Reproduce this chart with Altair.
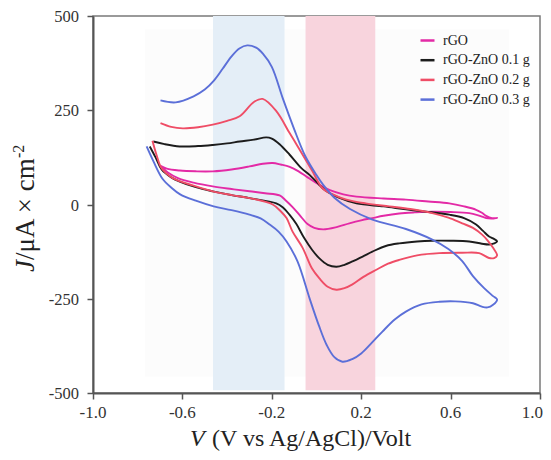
import altair as alt
import pandas as pd

# ---------------- data ----------------
x_ticks = [-1.0, -0.6, -0.2, 0.2, 0.6, 1.0]
x_tick_labels = ["-1.0", "-0.6", "-0.2", "0.2", "0.6", "1.0"]
y_ticks = [-500, -250, 0, 250, 500]
y_tick_labels = ["-500", "-250", "0", "250", "500"]
series_names = ["rGO", "rGO-ZnO 0.1 g", "rGO-ZnO 0.2 g", "rGO-ZnO 0.3 g"]
series_colors = ["#e32aa6", "#1c1c1c", "#ef4d66", "#5b6fd8"]

rgo_v = [-0.70, -0.67, -0.612, -0.54, -0.464, -0.38, -0.30, -0.24, -0.196, -0.16, -0.12, -0.08, -0.04, 0.013, 0.06,
         0.12, 0.179, 0.30, 0.40, 0.50, 0.594, 0.66, 0.714, 0.74, 0.759, 0.785, 0.808, 0.785, 0.759, 0.72, 0.683,
         0.60, 0.518, 0.44, 0.37, 0.30, 0.25, 0.20, 0.147, 0.09, 0.03, -0.01, -0.04, -0.07, -0.107, -0.14, -0.165,
         -0.23, -0.30, -0.38, -0.464, -0.55, -0.62, -0.665, -0.70]
rgo_j = [103, 95, 90, 88, 88, 93, 101, 108, 110, 106, 100, 88, 72, 52, 38,
         27, 21, 16, 13, 8, 3, -5, -14, -22, -30, -36, -36, -37, -36, -28, -23,
         -20, -19, -21, -24, -30, -36, -42, -50, -60, -66, -62, -52, -32, -7, 12, 24,
         30, 35, 41, 48, 58, 70, 85, 103]

zno1_v = [-0.746, -0.72, -0.693, -0.65, -0.612, -0.54, -0.464, -0.38, -0.30, -0.18, -0.15, -0.121, -0.09, -0.055,
          -0.02, 0.013, 0.05, 0.089, 0.125, 0.161, 0.21, 0.25, 0.31, 0.37, 0.45, 0.518, 0.60, 0.683, 0.74, 0.772,
          0.795, 0.808, 0.79, 0.772, 0.745, 0.714, 0.66, 0.594, 0.50, 0.40, 0.30, 0.179, 0.10, 0.04, 0.0, -0.03,
          -0.07, -0.12, -0.165, -0.2, -0.225, -0.28, -0.344, -0.40, -0.464, -0.53, -0.612, -0.68, -0.73]
zno1_j = [154, 125, 93, 72, 61, 46, 35, 25, 17, 3, -8, -27, -52, -89,
          -120, -143, -160, -165, -160, -151, -137, -125, -110, -103, -98, -96, -96, -98, -104, -106,
          -103, -98, -90, -85, -70, -53, -36, -27, -20, -13, -5, 3, 18, 37, 60, 78,
          98, 132, 160, 175, 178, 172, 167, 162, 158, 155, 154, 160, 167]

zno2_v = [-0.734, -0.715, -0.693, -0.643, -0.55, -0.464, -0.38, -0.30, -0.196, -0.16, -0.134, -0.107, -0.062,
          -0.02, 0.013, 0.05, 0.089, 0.125, 0.161, 0.21, 0.268, 0.32, 0.37, 0.45, 0.549, 0.65, 0.728, 0.772,
          0.795, 0.808, 0.79, 0.765, 0.741, 0.70, 0.652, 0.59, 0.518, 0.42, 0.326, 0.22, 0.134, 0.08, 0.027,
          -0.018, -0.06, -0.09, -0.121, -0.179, -0.241, -0.28, -0.344, -0.40, -0.464, -0.53, -0.598, -0.65, -0.698]
zno2_j = [169, 130, 96, 70, 50, 35, 25, 17, 0, -18, -36, -72, -115,
          -170, -196, -218, -226, -222, -212, -192, -173, -157, -147, -135, -129, -128, -129, -142,
          -142, -135, -115, -95, -80, -62, -50, -35, -23, -12, -5, 3, 13, 25, 43,
          88, 130, 160, 190, 247, 280, 272, 234, 222, 212, 205, 202, 206, 216]

zno3_v = [-0.76, -0.73, -0.69, -0.65, -0.61, -0.54, -0.46, -0.38, -0.30, -0.25, -0.21, -0.17, -0.134, -0.085,
          -0.031, 0.01, 0.045, 0.08, 0.116, 0.16, 0.20, 0.25, 0.295, 0.35, 0.40, 0.47, 0.55, 0.62, 0.70, 0.74,
          0.765, 0.79, 0.808, 0.79, 0.75, 0.70, 0.652, 0.59, 0.518, 0.40, 0.25, 0.15, 0.08, 0.03, 0.0, -0.05,
          -0.10, -0.15, -0.20, -0.24, -0.27, -0.31, -0.345, -0.38, -0.42, -0.46, -0.50, -0.55, -0.63, -0.698]
zno3_j = [154, 115, 69, 45, 27, 10, -5, -15, -27, -37, -53, -72, -98, -151,
          -249, -320, -372, -405, -417, -410, -395, -365, -337, -305, -284, -265, -258, -257, -262, -271,
          -273, -266, -252, -243, -222, -190, -150, -118, -93, -65, -40, -12, 18, 52, 78, 128,
          200, 280, 365, 400, 416, 422, 414, 393, 360, 328, 305, 287, 271, 276]

band_v1 = [-0.463, -0.049]
band_v2 = [-0.143, 0.263]
band_top = [500, 500]
band_bottom = [-493, -493]
band_colors = ["#e4eef7", "#f8d4dd"]

inner_v = [-0.768, 0.862]
inner_j = [-457, 465]

x_title_italic = "V"
x_title_rest = "(V vs Ag/AgCl)/Volt"
y_title_italic = "J"
y_title_rest = "/μA × cm"
y_title_sup = "-2"

# ---------------- build tables ----------------
rows = []
for name, vs, js in zip(series_names,
                        [rgo_v, zno1_v, zno2_v, zno3_v],
                        [rgo_j, zno1_j, zno2_j, zno3_j]):
    for i, (v, j) in enumerate(zip(vs, js)):
        rows.append({"series": name, "v": v, "j": j, "idx": i})
curves = pd.DataFrame(rows)

SERIF = "Liberation Serif"
xscale = alt.Scale(domain=[-1, 1], nice=False, zero=False)
yscale = alt.Scale(domain=[-500, 500], nice=False, zero=False)

axis_common = dict(title=None, grid=False, domainColor="#555555", domainWidth=2,
                   tickColor="#555555", tickWidth=1.5, tickSize=6, labels=False)
xaxis = alt.Axis(values=x_ticks, **axis_common)
yaxis = alt.Axis(values=y_ticks, **axis_common)

inner_df = pd.DataFrame({"v1": [inner_v[0]], "v2": [inner_v[1]], "j1": [inner_j[0]], "j2": [inner_j[1]]})
inner = alt.Chart(inner_df).mark_rect(color="#fcfcfc").encode(
    x=alt.X("v1:Q", scale=xscale, axis=xaxis), x2="v2:Q",
    y=alt.Y("j1:Q", scale=yscale, axis=yaxis), y2="j2:Q")

band_layers = []
for a, b, t, bt, c in zip(band_v1, band_v2, band_top, band_bottom, band_colors):
    bdf = pd.DataFrame({"v1": [a], "v2": [b], "j1": [bt], "j2": [t]})
    band_layers.append(
        alt.Chart(bdf).mark_rect(color=c).encode(
            x=alt.X("v1:Q", scale=xscale, axis=xaxis), x2="v2:Q",
            y=alt.Y("j1:Q", scale=yscale, axis=yaxis), y2="j2:Q"))

lines = alt.Chart(curves).mark_line(interpolate="catmull-rom", strokeWidth=1.9).encode(
    x=alt.X("v:Q", scale=xscale, axis=xaxis),
    y=alt.Y("j:Q", scale=yscale, axis=yaxis),
    color=alt.Color("series:N",
                    scale=alt.Scale(domain=series_names, range=series_colors),
                    sort=series_names,
                    legend=alt.Legend(title=None, orient="none", legendX=326, legendY=16,
                                      symbolType="stroke", symbolStrokeWidth=2.5, symbolSize=196,
                                      labelFont=SERIF, labelFontSize=14, labelColor="#222222",
                                      rowPadding=3.7, labelOffset=7, padding=0, labelLimit=300)),
    order="idx:Q")

# tick labels as serif text placed through the same scales
xlab_df = pd.DataFrame({"v": x_ticks[:-1], "t": x_tick_labels[:-1]})
xlabels = alt.Chart(xlab_df).mark_text(font=SERIF, fontSize=17, color="#333333",
                                       align="center", baseline="middle").encode(
    x=alt.X("v:Q", scale=xscale, axis=xaxis), y=alt.value(397), text="t:N")
xlast_df = pd.DataFrame({"v": x_ticks[-1:], "t": x_tick_labels[-1:]})
xlast = alt.Chart(xlast_df).mark_text(font=SERIF, fontSize=17, color="#333333",
                                      align="right", baseline="middle", dx=3).encode(
    x=alt.X("v:Q", scale=xscale, axis=xaxis), y=alt.value(397), text="t:N")
ylab_df = pd.DataFrame({"j": y_ticks, "t": y_tick_labels})
ylabels = alt.Chart(ylab_df).mark_text(font=SERIF, fontSize=16.5, color="#333333",
                                       align="right", baseline="middle", dy=1).encode(
    y=alt.Y("j:Q", scale=yscale, axis=yaxis), x=alt.value(-14), text="t:N")

one = pd.DataFrame({"a": [0]})

def txt(text, x, y, size, italic=False, angle=0):
    kw = dict(text=text, font=SERIF, fontSize=size, align="left", baseline="alphabetic", color="#222222")
    if italic:
        kw["fontStyle"] = "italic"
    if angle:
        kw["angle"] = angle
    return alt.Chart(one).mark_text(**kw).encode(x=alt.value(x), y=alt.value(y))

titles = [
    txt(x_title_italic, 97, 430, 24, italic=True),
    txt(x_title_rest, 119, 430, 24),
    txt(y_title_italic, -59, 256, 27, italic=True, angle=270),
    txt(y_title_rest, -59, 244, 27, angle=270),
    txt(y_title_sup, -69, 142, 16, angle=270),
]

chart = alt.layer(inner, *band_layers, lines, xlabels, xlast, ylabels, *titles).properties(
    width=447, height=377,
    autosize=alt.AutoSizeParams(type="none"),
    padding={"left": 85, "top": 8, "right": 3, "bottom": 59},
).configure(font=SERIF
).configure_view(stroke="#7a7a7a", strokeWidth=1.5)

chart.save("out.html", embed_options={"renderer": "svg", "actions": False})
